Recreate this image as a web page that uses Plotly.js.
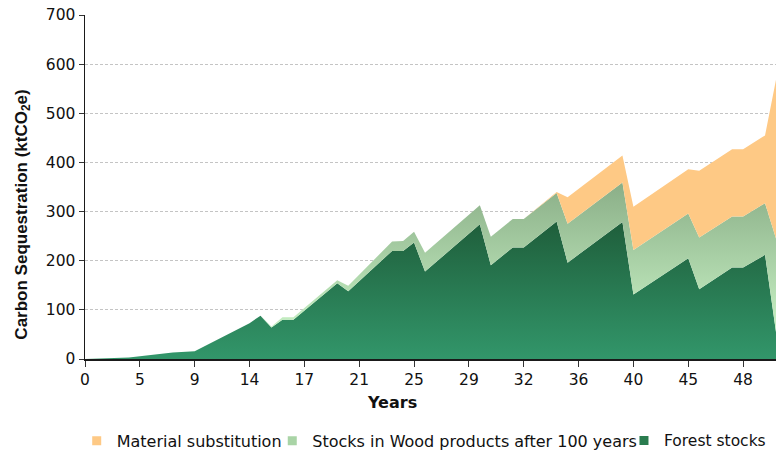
<!DOCTYPE html>
<html><head><meta charset="utf-8">
<script src="https://cdn.plot.ly/plotly-3.0.1.min.js"></script>
<style>html,body{margin:0;padding:0;background:#fff}#chart{width:776px;height:452px}</style>
</head><body><div id="chart"></div>
<script>
// category position (index along the category axis) of each vertex
const periodIndex = [0,4,8,10,15,16,17,18,19,23,24,28,29,30,31,36,37,39,40,43,44,49,50,55,56,59,60,62,63];
// ktCO2e components (stacked)
const forestStocks = [0,3,13,16,73,88,64,80,80,154,138,220,220,237,178,274,191,227,227,280,196,279,131,205,142,186,186,212,55];
const woodProducts = [0,0,0,0,0,0,2,5,5,6,11,19,20,22,38,39,58,58,58,58,79,80,91,91,105,104,104,105,190];
const materialSubstitution = [0,0,0,0,0,0,0,0,0,0,0,0,0,0,0,0,0,0,0,2,54,55,88,90,136,137,137,138,323];
// axis tick labels (years)
const tickPositions = [0,5,10,15,20,25,30,35,40,45,50,55,60];
const tickLabels = ['0','5','9','14','17','21','25','29','32','36','40','45','48'];
const seriesNames = ['Material substitution','Stocks in Wood products after 100 years','Forest stocks'];

const font = 'DejaVu Sans, Liberation Sans, Arial, sans-serif';

const traces = [
  {x: periodIndex, y: forestStocks, name: seriesNames[2], type:'scatter', mode:'lines', stackgroup:'one',
   line:{width:0}, showlegend:false, fillcolor:'#2b7f52',
   fillgradient:{type:'vertical', colorscale:[[0,'#32966a'],[1,'#1e5c39']], start:0, stop:290}},
  {x: periodIndex, y: woodProducts, name: seriesNames[1], type:'scatter', mode:'lines', stackgroup:'one',
   line:{width:0}, showlegend:false, fillcolor:'#a8d0a4',
   fillgradient:{type:'vertical', colorscale:[[0,'#c6f0c3'],[1,'#8aae87']], start:60, stop:360}},
  {x: periodIndex, y: materialSubstitution, name: seriesNames[0], type:'scatter', mode:'lines', stackgroup:'one',
   line:{width:0}, showlegend:false, fillcolor:'#fec985'},
  // legend entries
  {x:[null], y:[null], type:'scatter', mode:'markers', name: seriesNames[0], legend:'legend',
   marker:{symbol:'square', size:9, color:'#fec985'}, hoverinfo:'skip'},
  {x:[null], y:[null], type:'scatter', mode:'markers', name: seriesNames[1], legend:'legend2',
   marker:{symbol:'square', size:9, color:'#a9d4a6'}, hoverinfo:'skip'},
  {x:[null], y:[null], type:'scatter', mode:'markers', name: seriesNames[2], legend:'legend3',
   marker:{symbol:'square', size:9, color:'#2a7c4f'}, hoverinfo:'skip'}
];

const legBase = {orientation:'v', yanchor:'middle', xanchor:'left', y:-0.238, itemwidth:30,
  font:{family:font, size:16, color:'#111'}, bgcolor:'rgba(0,0,0,0)', borderwidth:0};

const layout = {
  width:776, height:452,
  margin:{l:85, r:0, t:15, b:93, autoexpand:false},
  paper_bgcolor:'#fff', plot_bgcolor:'#fff',
  showlegend:true,
  xaxis:{range:[0,63], tickmode:'array', tickvals:tickPositions, ticktext:tickLabels, automargin:false,
    showgrid:false, zeroline:false, showline:true, linecolor:'#1a1a1a', linewidth:1.5,
    ticks:'outside', ticklen:6, tickcolor:'#333', tickwidth:1,
    tickfont:{family:font, size:15.5, color:'#111'}},
  yaxis:{range:[0,700], dtick:100, tick0:0, showgrid:true, gridcolor:'#c4c4c4', gridwidth:1, griddash:'3px,2px',
    automargin:false, zeroline:false, showline:true, linecolor:'#1a1a1a', linewidth:1.5,
    ticks:'outside', ticklen:5, tickcolor:'#333', tickwidth:1,
    tickfont:{family:font, size:15.5, color:'#111'}},
  annotations:[
    {text:'<b>Carbon Sequestration (ktCO<sub>2</sub>e)</b>', xref:'paper', yref:'paper',
     x:-0.091, y:0.42, textangle:-90, showarrow:false, xanchor:'center', yanchor:'middle',
     font:{family:'Liberation Sans, Arial, sans-serif', size:17, color:'#111'}},
    {text:'<b>Years</b>', xref:'paper', yref:'paper', x:0.444, y:-0.125, showarrow:false,
     xanchor:'center', yanchor:'middle', font:{family:font, size:16, color:'#111'}}
  ],
  legend:Object.assign({}, legBase, {x:-0.012}),
  legend2:Object.assign({}, legBase, {x:0.271}),
  legend3:Object.assign({}, legBase, {x:0.780, font:{family:font, size:15.5, color:'#111'}})
};

Plotly.newPlot('chart', traces, layout, {displayModeBar:false, staticPlot:true});
</script>
</body></html>
